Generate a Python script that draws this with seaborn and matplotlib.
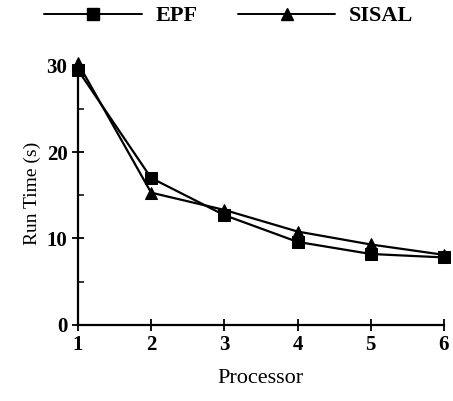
import matplotlib
matplotlib.use("Agg")
import matplotlib.pyplot as plt
import seaborn as sns
import pandas as pd
from matplotlib.ticker import MultipleLocator
from matplotlib.lines import Line2D

processors = [1, 2, 3, 4, 5, 6]
epf = [29.5, 17.0, 12.7, 9.6, 8.2, 7.8]
sisal = [30.3, 15.3, 13.3, 10.8, 9.3, 8.1]

df = pd.DataFrame({
    "Processor": processors * 2,
    "Run Time": epf + sisal,
    "Series": ["EPF"] * len(epf) + ["SISAL"] * len(sisal),
})

sns.set_theme(style="ticks")
plt.rcParams["font.family"] = ["Liberation Serif", "DejaVu Serif"]
plt.rcParams["text.color"] = "black"
plt.rcParams["axes.labelcolor"] = "black"

fig = plt.figure(figsize=(4.53, 4.01), dpi=100)
ax = fig.add_axes([0.172, 0.19, 0.808, 0.657])

sns.lineplot(data=df, x="Processor", y="Run Time", hue="Series", style="Series",
             markers={"EPF": "s", "SISAL": "^"}, dashes=False,
             palette={"EPF": "black", "SISAL": "black"},
             markersize=9, linewidth=1.6, markeredgecolor="black",
             ax=ax, legend=False, clip_on=False)

ax.set_xlim(1, 6)
ax.set_ylim(0, 30.5)
ax.set_xticks(processors)
ax.set_yticks([0, 10, 20, 30])
ax.yaxis.set_minor_locator(MultipleLocator(5))
ax.tick_params(axis="both", which="major", direction="inout", length=8, width=1.3,
               labelsize=15, colors="black")
ax.tick_params(axis="y", which="minor", direction="in", length=4, width=1.3)
for lab in ax.get_xticklabels() + ax.get_yticklabels():
    lab.set_fontweight("bold")
sns.despine(ax=ax)
for s in ["left", "bottom"]:
    ax.spines[s].set_linewidth(1.6)
    ax.spines[s].set_color("black")

ax.set_xlabel("Processor", fontsize=16, labelpad=10)
ax.set_ylabel("Run Time (s)", fontsize=14, labelpad=4)

handles = [Line2D([], [], color="black", marker="s", markersize=9, linewidth=1.4),
           Line2D([], [], color="black", marker="^", markersize=9, linewidth=1.4)]
fig.legend(handles, ["EPF", "SISAL"], loc="center", bbox_to_anchor=(0.505, 0.96),
           ncol=2, frameon=False, handlelength=4.4, columnspacing=1.8,
           handletextpad=0.6,
           prop={"family": "Liberation Serif", "weight": "bold", "size": 16})

fig.savefig("out.png", dpi=100)
